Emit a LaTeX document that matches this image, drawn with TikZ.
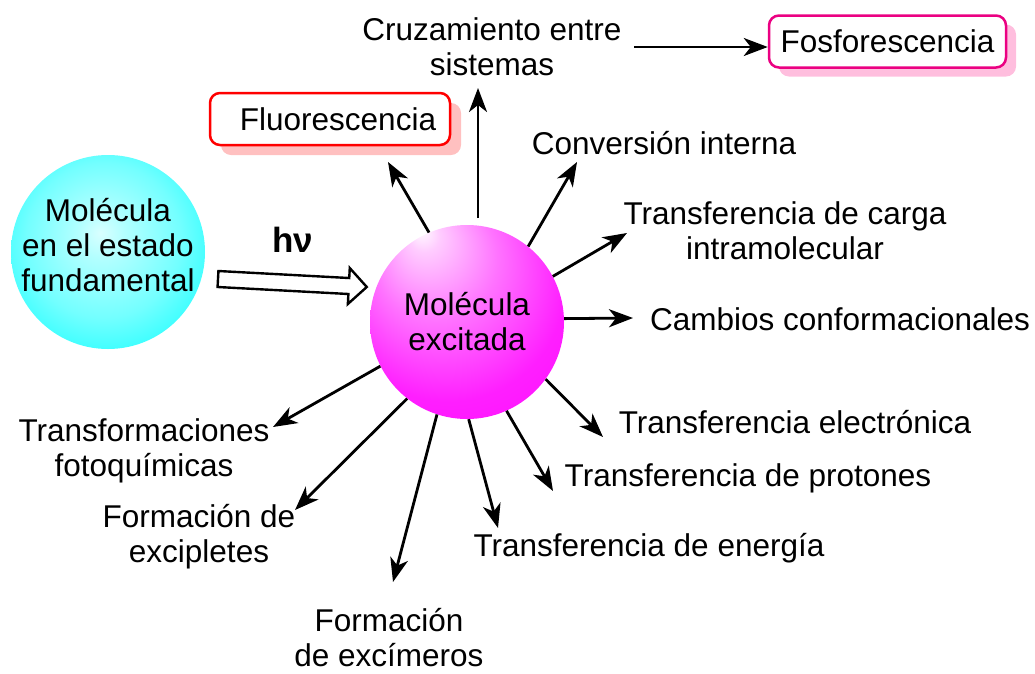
\documentclass[tikz,border=0pt]{standalone}
\usepackage{fontspec}
\setmainfont{Liberation Sans}
\usetikzlibrary{arrows.meta,shadows,calc}
\definecolor{fluored}{RGB}{255,0,0}
\definecolor{fluoshadow}{RGB}{255,192,192}
\definecolor{fosfpink}{RGB}{235,0,130}
\definecolor{fosfshadow}{RGB}{255,190,222}
\definecolor{ballcyan}{RGB}{0,255,255}
\definecolor{ballmag}{RGB}{255,0,255}
\pgfdeclareradialshading{cyanball}{\pgfpoint{-2bp}{5bp}}{color(0bp)=(white!85!ballcyan); color(6bp)=(white!70!ballcyan); color(20bp)=(ballcyan!55!white); color(34bp)=(ballcyan!92!white); color(50bp)=(ballcyan)}
\pgfdeclareradialshading{magball}{\pgfpoint{-12bp}{24bp}}{color(0bp)=(white); color(4bp)=(white!80!ballmag); color(16bp)=(ballmag!55!white); color(30bp)=(ballmag!88!white); color(50bp)=(ballmag)}
\begin{document}
\begin{tikzpicture}[x=1pt,y=-1pt, font=\fontsize{31.5}{35}\selectfont,
  lbl/.style={align=center, inner sep=0pt},
  arr/.style={line width=2.8pt, -{Stealth[length=24pt,width=18pt,inset=7pt]}},
  ball/.style={circle, minimum size=194pt, inner sep=0pt, align=center},
  procbox/.style={rounded corners=10pt, line width=2.5pt, fill=white, inner sep=0pt, minimum height=52pt}]
\useasboundingbox (0,0) rectangle (1035,673);

% spheres
\node[ball, shading=cyanball] (gs) at (108,252) {};
\node[lbl] (gstext) at (108,245) {Molécula\\en el estado\\fundamental};
\node[ball, shading=magball] (ex) at (467,322) {Molécula\\excitada};

% h nu open arrow
\node[font=\bfseries\fontsize{35}{38}\selectfont, inner sep=0pt] (hv) at (293,240) {hν};
\coordinate (h0) at (218,279);
\begin{scope}[shift={(h0)}, rotate=-3.07]
  \draw[line width=2.4pt, fill=white] (0,-8) -- (131,-8) -- (131,-18) -- (149,0) -- (131,18) -- (131,8) -- (0,8) -- cycle;
\end{scope}

% labels
\node[lbl] (cruz) at (492,47) {Cruzamiento entre\\sistemas};
\node[procbox, draw=fosfpink, minimum width=237pt,
      drop shadow={shadow xshift=10pt, shadow yshift=-9pt, fill=fosfshadow, opacity=1, draw=none}] (fosf) at (887.5,41.5) {Fosforescencia};
\node[procbox, draw=fluored, minimum width=240pt,
      drop shadow={shadow xshift=11pt, shadow yshift=-10pt, fill=fluoshadow, opacity=1, draw=none}] (fluo) at (330,119) {\hspace*{16pt}Fluorescencia};
\node[lbl] (conv) at (664,143) {Conversión interna};
\node[lbl] (carga) at (785,231) {Transferencia de carga\\intramolecular};
\node[lbl] (camb) at (840,319) {Cambios conformacionales};
\node[lbl] (elec) at (795,422) {Transferencia electrónica};
\node[lbl] (prot) at (748,478) {Transferencia de protones};
\node[lbl] (ener) at (649,548) {Transferencia de energía};
\node[lbl] (excim) at (389,638) {Formación\\de excímeros};
\node[lbl] (excip) at (199,537) {Formación de\\excipletes};
\node[lbl] (trans) at (144,451) {Transformaciones\\fotoquímicas};

% arrow end points
\coordinate (e1) at (388,162);
\coordinate (s2) at (478,218);
\coordinate (e2) at (478,88);
\coordinate (e3) at (577,162);
\coordinate (e4) at (627,233);
\coordinate (e5) at (633,318);
\coordinate (e6) at (603,437);
\coordinate (e7) at (553,491);
\coordinate (e8) at (498,528);
\coordinate (e9) at (393,582);
\coordinate (e10) at (295,510);
\coordinate (e11) at (273,427);
\coordinate (c0) at (634,47);

\draw[arr] (ex.113) -- (e1);
\draw[arr] (s2) -- (e2);
\draw[arr] (ex.51) -- (e3);
\draw[arr] (ex.28) -- (e4);
\draw[arr] (ex.2) -- (e5);
\draw[arr] (ex.-36) -- (e6);
\draw[arr] (ex.-66) -- (e7);
\draw[arr] (ex.-89) -- (e8);
\draw[arr] (ex.-108) -- (e9);
\draw[arr] (ex.-128) -- (e10);
\draw[arr] (ex.-153) -- (e11);
\draw[arr] (c0) -- (fosf.west |- c0);
\end{tikzpicture}
\end{document}
